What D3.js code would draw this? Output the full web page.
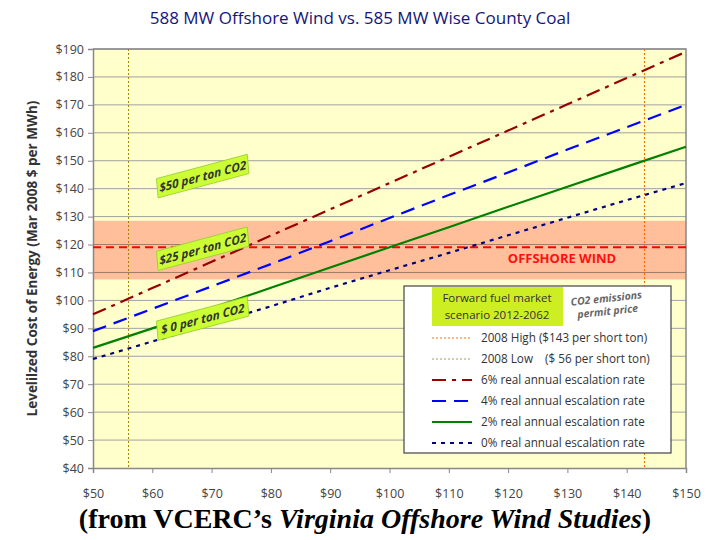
<!DOCTYPE html>
<html>
<head>
<meta charset="utf-8">
<script src="https://cdn.jsdelivr.net/npm/d3@7"></script>
<style>
  body { margin: 0; background: #fff; }
  text { font-family: "Open Sans", "Noto Sans", sans-serif; }
</style>
</head>
<body>
<div class="container"></div>
<script>
// fuel price on the x axis
var fuelPrice = [50, 60, 70, 80, 90, 100, 110, 120, 130, 140, 150];
// levelized cost per escalation scenario
var esc6 = [95, 104.4, 113.8, 123.2, 132.6, 142, 151.4, 160.8, 170.2, 179.6, 189];
var esc4 = [89, 97, 105, 113, 121.2, 129.5, 137.7, 145.8, 154, 162, 170];
var esc2 = [83, 90, 97.3, 104.5, 111.8, 119, 126.2, 133.5, 140.7, 147.9, 155];
var esc0 = [79, 85.3, 91.6, 97.9, 104.5, 110.8, 117, 123.3, 129.6, 135.9, 142];
var yTicks = [40, 50, 60, 70, 80, 90, 100, 110, 120, 130, 140, 150, 160, 170, 180, 190];
var offshoreWind = 119;
var offshoreBand = [107.5, 128.5];
var co2High = 143, co2Low = 56;
var co2Labels = [
  {text: "$50 per ton CO2", x: 68.5, y: 144.5},
  {text: "$25 per ton CO2", x: 68.5, y: 118.5},
  {text: "$ 0 per ton CO2", x: 68.5, y: 93.5}
];
var legendItems = [
  {text: "2008 High ($143 per short ton)", color: "#ff6a00", dash: "2,2", w: 1},
  {text: "2008 Low    ($ 56 per short ton)", color: "#a0a060", dash: "2,2", w: 1},
  {text: "6% real annual escalation rate", color: "#990000", dash: "14,6,4,6", w: 2},
  {text: "4% real annual escalation rate", color: "#0000ff", dash: "14,8", w: 2},
  {text: "2% real annual escalation rate", color: "#008000", dash: null, w: 2},
  {text: "0% real annual escalation rate", color: "#000080", dash: "4,5", w: 2}
];

var w = 720, h = 540;
var pL = 93, pR = 686, pT = 49, pB = 468;

var svg = d3.select(".container").append("svg")
  .attr("width", w).attr("height", h);

var x = d3.scaleLinear().domain([50, 150]).range([pL, pR]);
var y = d3.scaleLinear().domain([40, 190]).range([pB, pT]);

// plot background
svg.append("rect")
  .attr("x", pL).attr("y", pT)
  .attr("width", pR - pL).attr("height", pB - pT)
  .attr("fill", "#ffffcc");

// offshore wind band
svg.append("rect")
  .attr("x", pL).attr("y", y(offshoreBand[1]))
  .attr("width", pR - pL).attr("height", y(offshoreBand[0]) - y(offshoreBand[1]))
  .attr("fill", "#ffbf9a");

// grid lines
svg.append("g").selectAll("line").data(yTicks.slice(1)).enter().append("line")
  .attr("x1", pL).attr("x2", pR)
  .attr("y1", function(d){ return y(d); }).attr("y2", function(d){ return y(d); })
  .attr("stroke", function(d){ return (d > offshoreBand[0] && d < offshoreBand[1]) ? "#a07a6a" : "#a0a0a0"; })
  .attr("stroke-width", 1);

// axes
var yAxis = d3.axisLeft(y).tickValues(yTicks).tickSize(5).tickFormat(function(d){ return "$" + d; });
var gy = svg.append("g").attr("transform", "translate(" + pL + ",0)").call(yAxis);
var xAxis = d3.axisBottom(x).tickValues(fuelPrice).tickSize(5).tickFormat(function(d){ return "$" + d; });
var gx = svg.append("g").attr("transform", "translate(0," + pB + ")").call(xAxis);
[gy, gx].forEach(function(g){
  g.selectAll(".domain").attr("stroke", "#888").attr("stroke-width", 1.5);
  g.selectAll(".tick line").attr("stroke", "#888");
  g.selectAll("text").attr("fill", "#444").style("font-size", "12.5px")
    .style("font-family", "'Liberation Sans Narrow', 'Open Sans', sans-serif");
});
gx.selectAll("text").attr("dy", "1.75em");
gy.selectAll("text").attr("x", -9);

// plot frame top/right
svg.append("path")
  .attr("d", "M" + pL + "," + pT + "H" + pR + "V" + pB)
  .attr("fill", "none").attr("stroke", "#888").attr("stroke-width", 1.5);

// CO2 price verticals
svg.append("line").attr("x1", x(co2Low)).attr("x2", x(co2Low))
  .attr("y1", pT).attr("y2", pB)
  .attr("stroke", "#a08000").attr("stroke-width", 1).attr("stroke-dasharray", "2,2");
svg.append("line").attr("x1", x(co2High)).attr("x2", x(co2High))
  .attr("y1", pT).attr("y2", pB)
  .attr("stroke", "#ff6a00").attr("stroke-width", 1).attr("stroke-dasharray", "2,2");

// offshore wind cost line
svg.append("line").attr("x1", pL).attr("x2", pR)
  .attr("y1", y(offshoreWind)).attr("y2", y(offshoreWind))
  .attr("stroke", "#ff0000").attr("stroke-width", 2).attr("stroke-dasharray", "8,5");
svg.append("text").attr("x", 562).attr("y", y(offshoreWind) + 16)
  .attr("text-anchor", "middle").attr("fill", "#ff1010")
  .style("font-size", "13px").style("font-weight", "bold")
  .text("OFFSHORE WIND");

// scenario lines
var line = d3.line()
  .x(function(d, i){ return x(fuelPrice[i]); })
  .y(function(d){ return y(d); });
var series = [
  {vals: esc6, item: legendItems[2]},
  {vals: esc4, item: legendItems[3]},
  {vals: esc2, item: legendItems[4]},
  {vals: esc0, item: legendItems[5]}
];
series.forEach(function(s){
  svg.append("path").datum(s.vals)
    .attr("d", line)
    .attr("fill", "none")
    .attr("stroke", s.item.color)
    .attr("stroke-width", 2.2)
    .attr("stroke-dasharray", s.item.dash);
});

// CO2 labels on the lines
co2Labels.forEach(function(l){
  var cx = x(l.x), cy = y(l.y);
  var g = svg.append("g").attr("transform", "translate(" + cx + "," + cy + ") rotate(-15) skewX(-10)");
  g.append("rect").attr("x", -47).attr("y", -9.5).attr("width", 94).attr("height", 19)
    .attr("fill", "#ccff33").attr("stroke", "#99cc33").attr("stroke-width", 0.8);
  g.append("text").attr("x", 0).attr("y", 4.5).attr("text-anchor", "middle")
    .attr("fill", "#333").style("font-size", "12px").style("font-weight", "bold")
    .style("font-style", "italic").style("white-space", "pre")
    .text(l.text);
});

// legend
var lg = svg.append("g");
lg.append("rect").attr("x", 404).attr("y", 286).attr("width", 267).attr("height", 167)
  .attr("fill", "#fff").attr("stroke", "#444").attr("stroke-width", 1.2);
lg.append("rect").attr("x", 432).attr("y", 287).attr("width", 131).attr("height", 39)
  .attr("fill", "#ccee22");
lg.append("text").attr("x", 497).attr("y", 302).attr("text-anchor", "middle")
  .attr("fill", "#333").style("font-size", "11.5px").text("Forward fuel market");
lg.append("text").attr("x", 497).attr("y", 319).attr("text-anchor", "middle")
  .attr("fill", "#333").style("font-size", "11.5px").text("scenario 2012-2062");
var note = lg.append("g").attr("transform", "translate(607,305) rotate(-6)");
note.append("text").attr("y", -3).attr("text-anchor", "middle").attr("fill", "#666")
  .style("font-size", "10.5px").style("font-style", "italic").style("font-weight", "bold")
  .text("CO2 emissions");
note.append("text").attr("y", 10).attr("text-anchor", "middle").attr("fill", "#666")
  .style("font-size", "10.5px").style("font-style", "italic").style("font-weight", "bold")
  .text("permit price");

var rows = lg.selectAll(".row").data(legendItems).enter().append("g")
  .attr("class", "row")
  .attr("transform", function(d, i){ return "translate(0," + (338 + i * 21) + ")"; });
rows.append("line").attr("x1", 432).attr("x2", 472).attr("y1", 0).attr("y2", 0)
  .attr("stroke", function(d){ return d.color; })
  .attr("stroke-width", function(d){ return d.w; })
  .attr("stroke-dasharray", function(d){ return d.dash; });
rows.append("text").attr("x", 481).attr("y", 4)
  .attr("fill", "#333").style("font-size", "11.7px").style("white-space", "pre")
  .text(function(d){ return d.text; });

// title
svg.append("text").attr("x", 360).attr("y", 24).attr("text-anchor", "middle")
  .attr("fill", "#14147a").style("font-size", "17px")
  .text("588 MW Offshore Wind vs. 585 MW Wise County Coal");

// y axis title
svg.append("text")
  .attr("transform", "translate(37," + ((pT + pB) / 2) + ") rotate(-90)")
  .attr("text-anchor", "middle").attr("fill", "#333")
  .style("font-size", "13.5px").style("font-weight", "bold")
  .text("Levelilzed Cost of Energy (Mar 2008 $ per MWh)");

// caption
var cap = svg.append("text").attr("x", 365).attr("y", 528).attr("text-anchor", "middle")
  .style("font-family", "'Liberation Serif', 'DejaVu Serif', serif")
  .style("font-size", "28px").style("font-weight", "bold").attr("fill", "#000");
cap.append("tspan").text("(from VCERC\u2019s ");
cap.append("tspan").style("font-style", "italic").text("Virginia Offshore Wind Studies");
cap.append("tspan").text(")");
</script>
</body>
</html>
